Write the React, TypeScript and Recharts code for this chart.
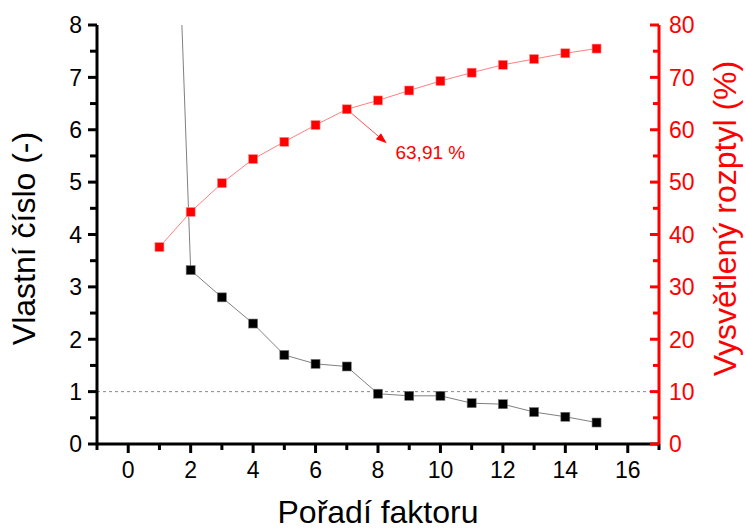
import { LineChart, Line, XAxis, YAxis, ReferenceLine, ReferenceDot } from "recharts";

const factors = [1, 2, 3, 4, 5, 6, 7, 8, 9, 10, 11, 12, 13, 14, 15];
const eigenvalues = [20.0, 3.32, 2.8, 2.3, 1.7, 1.53, 1.48, 0.96, 0.92, 0.92, 0.78, 0.76, 0.61, 0.52, 0.41];
const explained = [37.6, 44.3, 49.8, 54.4, 57.7, 60.9, 63.91, 65.6, 67.5, 69.3, 70.9, 72.4, 73.5, 74.6, 75.5];

const xTicks = [-1, 0, 1, 2, 3, 4, 5, 6, 7, 8, 9, 10, 11, 12, 13, 14, 15, 16, 17];
const leftTicks = [0, 0.5, 1, 1.5, 2, 2.5, 3, 3.5, 4, 4.5, 5, 5.5, 6, 6.5, 7, 7.5, 8];
const rightTicks = [0, 5, 10, 15, 20, 25, 30, 35, 40, 45, 50, 55, 60, 65, 70, 75, 80];

const annotation = { from: { x: 7, y: 63.91 }, to: { x: 8.28, y: 57.4 }, text: { x: 8.56, y: 55.7 }, label: "63,91 %" };

const data = factors.map((f, i) => ({ f, eig: eigenvalues[i], pct: explained[i] }));

const FONT = "'Liberation Sans', Arial, sans-serif";
const RED = "#ff0000";
const TICK_FS = 23;
const TITLE_FS = 32;

const BottomTick = (p: any) => {
  const v = p.payload.value;
  const major = v % 2 === 0;
  return (
    <g>
      <line x1={p.x} x2={p.x} y1={p.y} y2={p.y + (major ? 9 : 6)} stroke="#000" strokeWidth={3} />
      {major && (
        <text x={p.x} y={p.y + 34} textAnchor="middle" fontSize={TICK_FS} fontFamily={FONT} fill="#000">
          {v}
        </text>
      )}
    </g>
  );
};

const TopTick = (p: any) => {
  const major = p.payload.value % 2 === 0;
  return <line x1={p.x} x2={p.x} y1={p.y} y2={p.y + (major ? 10 : 7)} stroke="#000" strokeWidth={3} />;
};

const LeftTick = (p: any) => {
  const v = p.payload.value;
  const major = Number.isInteger(v);
  return (
    <g>
      <line x1={p.x} x2={p.x - (major ? 9 : 7)} y1={p.y} y2={p.y} stroke="#000" strokeWidth={3} />
      {major && (
        <text x={p.x - 15} y={p.y} dy="0.36em" textAnchor="end" fontSize={TICK_FS} fontFamily={FONT} fill="#000">
          {v}
        </text>
      )}
    </g>
  );
};

const RightTick = (p: any) => {
  const v = p.payload.value;
  const major = v % 10 === 0;
  return (
    <g>
      <line x1={p.x} x2={p.x - (major ? 9 : 6)} y1={p.y} y2={p.y} stroke={RED} strokeWidth={3} />
      {major && (
        <text x={p.x + 10} y={p.y} dy="0.36em" textAnchor="start" fontSize={TICK_FS} fontFamily={FONT} fill={RED}>
          {v}
        </text>
      )}
    </g>
  );
};

const Square = (color: string) => (p: any) => {
  if (p.cx == null || p.cy == null) return <g key={p.key} />;
  return <rect key={p.key} x={p.cx - 4.5} y={p.cy - 4.5} width={9} height={9} fill={color} stroke={color === RED ? "#ff9090" : "#777"} strokeWidth={0.6} />;
};

const Arrow = (p: any) => {
  const { x1, y1, x2, y2 } = p;
  const ang = Math.atan2(y2 - y1, x2 - x1);
  const len = 11;
  const w = 4;
  const bx = x2 - len * Math.cos(ang);
  const by = y2 - len * Math.sin(ang);
  const px = -Math.sin(ang) * w;
  const py = Math.cos(ang) * w;
  return (
    <g>
      <line x1={x1} y1={y1} x2={bx} y2={by} stroke="#ff5050" strokeWidth={1} />
      <polygon points={`${x2},${y2} ${bx + px},${by + py} ${bx - px},${by - py}`} fill={RED} />
    </g>
  );
};

const AnnText = (p: any) => (
  <text x={p.cx} y={p.cy} dy="0.36em" fontSize={19} fontFamily={FONT} fill={RED}>
    {annotation.label}
  </text>
);

const leftLabel = (props: any) => {
  const vb = props.viewBox ?? props;
  const cx = vb.x + 35;
  const cy = vb.y + vb.height / 2 + 4;
  return (
    <text x={cx} y={cy} transform={`rotate(-90 ${cx} ${cy})`} textAnchor="middle" fontSize={TITLE_FS} fontFamily={FONT} fill="#000">
      Vlastní číslo (-)
    </text>
  );
};

const rightLabel = (props: any) => {
  const vb = props.viewBox ?? props;
  const cx = vb.x + 77;
  const cy = vb.y + vb.height / 2 - 16;
  return (
    <text x={cx} y={cy} transform={`rotate(-90 ${cx} ${cy})`} textAnchor="middle" fontSize={TITLE_FS} fontFamily={FONT} fill={RED}>
      Vysvětlený rozptyl (%)
    </text>
  );
};

const bottomLabel = (props: any) => {
  const vb = props.viewBox ?? props;
  return (
    <text x={vb.x + vb.width / 2} y={vb.y + 79} textAnchor="middle" fontSize={TITLE_FS} fontFamily={FONT} fill="#000">
      Pořadí faktoru
    </text>
  );
};

export default function App() {
  return (
    <div style={{ position: "absolute", left: 0, top: 0, background: "#fff" }}>
      <LineChart width={746} height={529} data={data} margin={{ top: 25, right: 0, bottom: 0, left: 0 }}>
        <XAxis
          xAxisId="b"
          dataKey="f"
          type="number"
          domain={[-1, 17]}
          ticks={xTicks}
          interval={0}
          height={85}
          tickSize={0}
          tickMargin={0}
          tickLine={false}
          tick={BottomTick}
          axisLine={{ stroke: "#000", strokeWidth: 3 }}
          label={bottomLabel}
        />
        <XAxis
          xAxisId="t"
          orientation="top"
          dataKey="f"
          type="number"
          domain={[-1, 17]}
          ticks={xTicks}
          interval={0}
          height={0}
          tickSize={0}
          tickMargin={0}
          tickLine={false}
          tick={TopTick}
          axisLine={{ stroke: "#000", strokeWidth: 3 }}
        />
        <YAxis
          yAxisId="left"
          type="number"
          domain={[0, 8]}
          allowDataOverflow
          ticks={leftTicks}
          interval={0}
          width={97}
          tickSize={0}
          tickMargin={0}
          tickLine={false}
          tick={LeftTick}
          axisLine={{ stroke: "#000", strokeWidth: 3 }}
          label={leftLabel}
        />
        <YAxis
          yAxisId="right"
          orientation="right"
          type="number"
          domain={[0, 80]}
          ticks={rightTicks}
          interval={0}
          width={87}
          tickSize={0}
          tickMargin={0}
          tickLine={false}
          tick={RightTick}
          axisLine={{ stroke: RED, strokeWidth: 3 }}
          label={rightLabel}
        />
        <ReferenceLine xAxisId="b" yAxisId="left" y={1} stroke="#888" strokeWidth={1} strokeDasharray="3 3" />
        <Line
          xAxisId="b"
          yAxisId="left"
          dataKey="eig"
          stroke="#808080"
          strokeWidth={1}
          dot={Square("#000")}
          activeDot={false}
          isAnimationActive={false}
        />
        <Line
          xAxisId="b"
          yAxisId="right"
          dataKey="pct"
          stroke="#ff8080"
          strokeWidth={1}
          dot={Square(RED)}
          activeDot={false}
          isAnimationActive={false}
        />
        <ReferenceLine
          xAxisId="b"
          yAxisId="right"
          segment={[annotation.from, annotation.to]}
          shape={Arrow}
        />
        <ReferenceDot xAxisId="b" yAxisId="right" x={annotation.text.x} y={annotation.text.y} r={0} shape={AnnText} />
      </LineChart>
    </div>
  );
}
